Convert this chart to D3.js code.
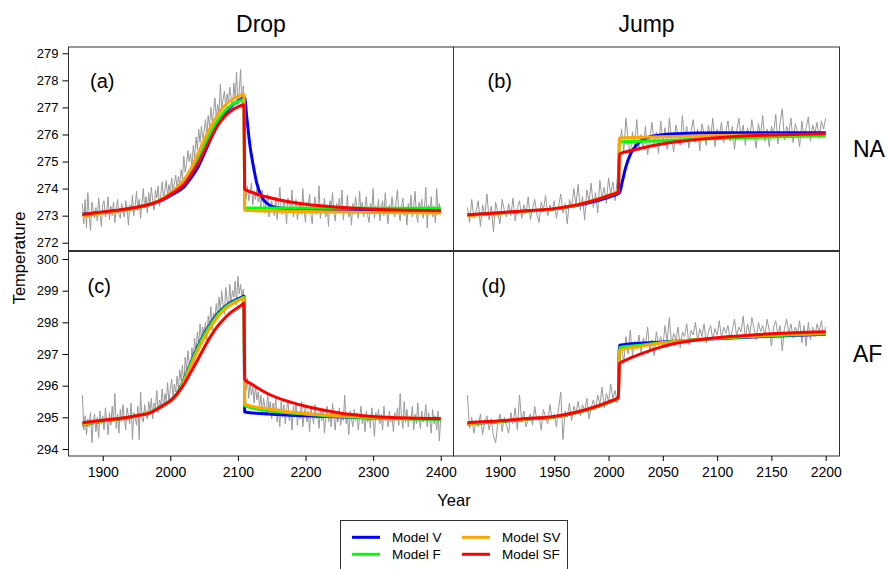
<!DOCTYPE html>
<html lang="en">
<head>
  <meta charset="UTF-8">
  <script type="text/javascript" src="https://cdn.jsdelivr.net/npm/d3@7/dist/d3.min.js"></script>
  <title>Drop / Jump</title>
  <style type="text/css">
    * { margin: 0; padding: 0; }
    html, body { background-color: #fff; }
    svg text { font-family: "Liberation Sans", Arial, Helvetica, sans-serif; fill: #000; }
  </style>
</head>
<body>
<div id="box"></div>
<script type="text/javascript">
  // --- data: observed series (every 2 years) ---
  var dropYears = d3.range(1870, 2401, 2)
  var jumpYears = d3.range(1870, 2201, 2)

  var naDropObs = [
    273.45, 272.7, 273.6, 272.55, 273.85, 273.0, 272.45, 273.5, 273.2, 272.9,
    273.3, 272.8, 273.65, 273.1, 272.6, 273.4, 273.55, 272.95, 273.2, 273.7,
    272.85, 273.35, 273.0, 273.5, 272.75, 273.25, 273.6, 273.05, 272.9, 273.45,
    273.2, 272.95, 273.55, 273.3, 272.65, 273.4, 273.15, 273.75, 273.0, 273.35,
    273.9, 273.2, 273.6, 272.9, 273.45, 274.0, 273.3, 273.7, 273.1, 273.85,
    273.4, 274.05, 273.55, 273.2, 273.95, 273.65, 274.1, 273.35, 273.8, 274.25,
    273.6, 273.95, 274.3, 273.7, 274.15, 273.85, 274.4, 273.9, 274.2, 274.5,
    274.0, 274.45, 274.2, 274.7, 274.35, 275.2, 274.6, 274.9, 275.4, 275.0,
    275.3, 274.8, 275.6, 275.1, 275.9, 275.45, 276.2, 275.7, 276.3, 275.85,
    276.1, 276.55, 275.95, 276.7, 276.3, 277.0, 276.5, 276.85, 277.35, 276.6,
    277.1, 276.75, 277.85, 276.9, 277.3, 277.6, 277.0, 277.5, 277.2, 277.75,
    277.35, 276.95, 277.9, 277.3, 278.3, 277.1, 277.6, 278.4, 276.95, 277.8,
    273.95, 273.6, 274.1, 273.55, 273.85, 274.2, 273.4, 273.9, 273.6, 274.0,
    273.5, 273.75, 273.3, 273.95, 273.45, 273.1, 273.6, 273.8, 272.95, 273.35,
    273.55, 273.2, 273.0, 273.7, 272.85, 273.4, 274.05, 273.25, 273.05, 273.6,
    273.3, 272.7, 273.65, 273.45, 273.1, 273.95, 272.95, 273.2, 273.6, 272.85,
    273.25, 273.5, 273.05, 274.0, 273.15, 272.75, 273.5, 273.35, 273.8, 273.0,
    272.7, 273.35, 273.7, 273.05, 273.2, 274.1, 272.9, 273.4, 273.15, 273.65,
    272.95, 273.4, 272.6, 273.55, 273.3, 273.85, 273.1, 272.8, 273.45, 273.2,
    273.65, 273.1, 273.95, 272.85, 273.35, 273.15, 273.75, 272.95, 273.3, 272.65,
    273.45, 273.05, 273.7, 273.25, 272.9, 273.9, 273.15, 273.5, 272.95, 273.35,
    273.7, 273.0, 272.75, 273.45, 273.2, 274.0, 272.9, 273.35, 273.1, 273.6,
    272.8, 273.3, 273.55, 273.0, 273.85, 273.15, 272.7, 273.4, 273.1, 273.7,
    273.2, 272.95, 273.55, 273.95, 273.1, 272.8, 273.35, 273.65, 273.0, 273.3,
    272.65, 273.45, 273.15, 273.75, 272.95, 273.35, 273.9, 273.05, 272.75, 273.5,
    273.2, 273.6, 272.9, 273.3, 274.05, 272.55, 273.4, 273.1, 273.7, 272.95,
    273.35, 272.75, 274.0, 273.15, 273.45, 273.1
  ]

  var naJumpObs = [
    273.3, 272.75, 273.6, 272.9, 273.15, 273.55, 272.6, 273.4, 273.0, 273.8,
    272.85, 273.35, 272.4, 273.5, 273.1, 272.7, 273.6, 273.2, 272.95, 273.45,
    273.0, 273.65, 272.8, 273.3, 273.55, 272.9, 273.4, 273.1, 273.7, 272.85,
    273.25, 273.6, 273.05, 272.75, 273.5, 273.2, 273.75, 273.0, 273.4, 273.15,
    273.55, 272.9, 273.35, 273.8, 273.1, 273.45, 272.7, 273.6, 273.3, 274.0,
    273.4, 274.15, 273.2, 273.7, 272.85, 273.95, 273.5, 274.2, 273.3, 273.85,
    273.1, 274.3, 273.65, 274.05, 273.45, 274.4, 273.8, 274.25, 273.55, 274.35,
    275.5, 276.2, 275.35, 276.6, 275.8, 275.2, 276.1, 275.6, 276.55, 275.4,
    276.0, 275.5, 276.3, 275.25, 275.85, 276.45, 275.65, 276.1, 275.3, 276.5,
    275.75, 276.25, 275.45, 276.6, 275.9, 275.35, 276.35, 276.0, 275.6, 276.7,
    275.8, 276.3, 275.5, 276.15, 276.55, 275.7, 276.2, 275.4, 276.4, 276.05,
    275.6, 276.35, 275.85, 276.6, 275.55, 276.2, 275.95, 276.45, 275.7, 276.1,
    276.5, 275.75, 276.3, 275.45, 276.15, 276.6, 275.9, 276.35, 275.6, 276.25,
    275.85, 276.55, 276.0, 275.5, 276.4, 275.95, 276.7, 275.75, 276.2, 275.55,
    276.3, 276.0, 276.75, 275.65, 276.45, 276.95, 275.8, 276.3, 276.05, 276.6,
    275.7, 276.4, 276.1, 275.55, 276.5, 275.9, 276.25, 276.65, 275.75, 276.35,
    276.05, 276.45, 275.85, 276.5, 276.2, 276.6
  ]

  var afDropObs = [
    295.7, 294.6, 295.05, 294.45, 294.95, 294.7, 295.15, 294.2, 294.85, 295.1,
    294.55, 295.0, 294.35, 295.2, 294.8, 295.05, 294.6, 295.3, 294.9, 294.45,
    295.15, 294.75, 295.35, 294.9, 295.75, 294.65, 295.1, 294.5, 295.25, 294.85,
    295.4, 294.95, 294.6, 295.3, 295.05, 294.8, 295.45, 294.3, 295.15, 295.0,
    294.75, 295.35, 294.3, 295.8, 295.0, 294.85, 295.4, 295.1, 294.95, 295.5,
    295.2, 295.6, 294.95, 295.45, 295.3, 295.85, 295.15, 295.55, 295.4, 295.9,
    295.3, 295.75, 295.5, 296.1, 295.45, 295.9, 296.2, 295.65, 296.05, 295.8,
    296.3, 295.9, 296.5, 296.15, 296.65, 296.0, 296.9, 296.45, 297.1, 296.7,
    296.55, 297.2, 296.8, 297.5, 297.0, 297.7, 297.3, 297.95, 297.45, 297.85,
    297.6, 298.0, 297.4, 298.2, 297.9, 298.5, 297.75, 298.3, 298.1, 298.6,
    298.2, 298.8, 298.35, 299.0, 298.55, 298.25, 299.1, 298.7, 298.45, 299.2,
    298.6, 299.0, 298.8, 299.3, 298.55, 299.45, 298.9, 299.2, 298.75, 299.05,
    296.3, 295.85, 296.25, 295.6, 296.1, 295.7, 295.95, 295.45, 296.0, 295.55,
    295.8, 295.35, 295.7, 295.15, 295.6, 295.3, 295.05, 295.75, 295.2, 295.5,
    294.95, 295.45, 295.1, 295.65, 294.85, 295.3, 294.7, 295.5, 295.0, 295.4,
    294.8, 295.25, 295.55, 294.9, 295.15, 294.6, 295.35, 295.05, 295.45, 294.75,
    295.2, 294.95, 295.5, 294.7, 295.1, 295.35, 294.85, 295.2, 294.55, 295.3,
    295.05, 294.8, 295.4, 294.95, 295.15, 294.65, 295.3, 294.9, 295.25, 294.5,
    295.0, 295.35, 294.85, 295.1, 294.7, 295.45, 294.95, 294.6, 295.2, 294.85,
    295.3, 294.75, 295.1, 294.9, 295.7, 294.8, 295.05, 294.45, 295.2, 294.95,
    294.7, 295.25, 294.9, 295.15, 294.6, 295.0, 295.35, 294.8, 295.1, 294.55,
    295.2, 294.85, 295.05, 294.65, 295.3, 294.9, 294.4, 295.15, 294.95, 295.25,
    294.8, 295.1, 294.6, 295.35, 294.9, 295.0, 294.7, 295.2, 294.85, 295.05,
    294.55, 295.15, 294.9, 295.3, 294.75, 295.75, 295.0, 294.65, 295.5, 294.85,
    295.25, 294.7, 295.05, 294.9, 295.35, 294.6, 295.1, 294.8, 295.45, 294.95,
    294.65, 295.2, 294.85, 295.0, 295.4, 294.7, 295.15, 294.9, 294.5, 295.25,
    294.8, 295.05, 294.6, 295.2, 294.25, 295.0
  ]

  var afJumpObs = [
    295.7, 294.65, 295.0, 294.5, 294.9, 294.7, 295.1, 294.45, 294.85, 295.05,
    294.6, 294.95, 294.4, 294.2, 294.8, 295.1, 294.55, 295.0, 294.75, 294.5,
    295.15, 294.8, 295.3, 294.6, 295.7, 294.85, 295.2, 294.7, 294.95, 295.1,
    294.75, 295.35, 294.9, 295.05, 294.6, 295.25, 295.0, 294.8, 295.4, 294.95,
    295.1, 294.7, 295.3, 295.8, 294.3, 295.2, 295.0, 295.45, 294.9, 295.35,
    295.15, 295.5, 295.05, 295.4, 295.2, 295.6, 294.95, 295.3, 295.55, 295.25,
    295.7, 295.4, 295.95, 295.3, 295.75, 295.5, 296.05, 295.6, 295.85, 295.45,
    296.85, 297.3, 296.7, 297.55, 297.0, 297.75, 296.95, 297.4, 297.15, 297.6,
    297.05, 297.5, 297.25, 297.85, 297.1, 297.45, 296.95, 297.7, 297.3, 297.55,
    297.2, 297.9, 297.4, 298.15, 297.3, 297.65, 297.45, 297.85, 297.2, 297.7,
    297.55, 297.95, 297.3, 297.75, 297.6, 298.0, 297.4, 297.8, 297.55, 297.95,
    297.35, 297.7, 297.9, 297.45, 297.8, 297.6, 298.05, 297.5, 297.85, 297.65,
    297.9, 297.45, 297.75, 298.1, 297.55, 297.85, 297.7, 298.2, 297.5, 297.95,
    297.6, 298.15, 297.8, 297.45, 298.0, 297.7, 297.9, 297.55, 298.1, 297.75,
    297.25, 297.85, 298.05, 297.6, 297.9, 297.1, 297.8, 298.1, 297.65, 297.95,
    297.5, 297.85, 297.65, 298.05, 297.35, 297.9, 297.25, 298.0, 297.45, 297.85,
    297.55, 297.95, 297.7, 298.05, 297.6, 297.85
  ]

  // --- data: fitted model curves, [year, temperature] ---
  var naDropV = [[1870,273.05],[1900,273.13],[1930,273.22],[1950,273.3],[1970,273.41],[1990,273.6],[2000,273.74],[2010,273.88],[2020,274.05],[2030,274.38],[2040,274.75],[2050,275.28],[2060,275.85],[2070,276.35],[2080,276.75],[2090,277.04],[2100,277.24],[2105,277.31],[2110,277.36],[2113,276.66],[2118,275.55],[2123,274.81],[2128,274.19],[2135,273.7],[2143,273.45],[2152,273.33],[2165,273.27],[2200,273.23],[2300,273.2],[2400,273.18]]
  var naDropF = [[1870,273.03],[1900,273.13],[1930,273.22],[1950,273.3],[1970,273.42],[1990,273.63],[2000,273.8],[2010,273.98],[2020,274.22],[2030,274.6],[2040,275.1],[2050,275.6],[2060,276.1],[2070,276.52],[2080,276.85],[2090,277.08],[2100,277.22],[2105,277.27],[2109,277.3],[2110,273.28],[2400,273.27]]
  var naDropSV = [[1870,272.98],[1900,273.1],[1930,273.2],[1950,273.29],[1970,273.42],[1990,273.66],[2000,273.84],[2010,274.05],[2020,274.32],[2030,274.72],[2040,275.25],[2050,275.8],[2060,276.3],[2070,276.73],[2080,277.05],[2090,277.27],[2100,277.41],[2105,277.46],[2109,277.49],[2110,273.2],[2150,273.17],[2200,273.15],[2300,273.12],[2400,273.1]]
  var naDropSF = [[1870,273.04],[1900,273.14],[1930,273.23],[1950,273.31],[1970,273.42],[1990,273.62],[2000,273.78],[2010,273.95],[2020,274.15],[2030,274.5],[2040,274.9],[2050,275.38],[2060,275.88],[2070,276.33],[2080,276.66],[2090,276.88],[2100,277.02],[2105,277.07],[2109,277.1],[2110,273.98],[2120,273.87],[2130,273.78],[2143,273.69],[2167,273.55],[2200,273.42],[2250,273.31],[2300,273.24],[2350,273.2],[2400,273.18]]

  var naJumpV = [[1870,273.02],[1900,273.1],[1925,273.17],[1950,273.25],[1970,273.37],[1990,273.56],[2000,273.68],[2010,273.84],[2013,274.32],[2016,274.81],[2020.5,275.3],[2027,275.67],[2034,275.86],[2047,275.98],[2062,276.03],[2100,276.06],[2200,276.06]]
  var naJumpF = [[1870,273.02],[1900,273.1],[1925,273.17],[1950,273.25],[1970,273.38],[1990,273.6],[2000,273.73],[2009,273.87],[2010,275.72],[2050,275.77],[2100,275.85],[2150,275.91],[2200,275.95]]
  var naJumpSV = [[1870,273.0],[1900,273.09],[1925,273.17],[1950,273.26],[1970,273.4],[1990,273.62],[2000,273.76],[2009,273.9],[2010,275.87],[2100,275.96],[2200,276.0]]
  var naJumpSF = [[1870,273.03],[1900,273.11],[1925,273.18],[1950,273.26],[1970,273.39],[1990,273.6],[2000,273.74],[2009,273.88],[2010,275.28],[2020,275.4],[2032,275.51],[2045,275.62],[2062,275.73],[2080,275.81],[2094,275.86],[2120,275.93],[2150,275.98],[2200,276.03]]

  var afDropV = [[1870,294.76],[1900,294.88],[1930,294.97],[1950,295.05],[1970,295.16],[1990,295.4],[2000,295.53],[2010,295.75],[2020,296.18],[2030,296.7],[2040,297.2],[2050,297.63],[2060,297.98],[2070,298.27],[2080,298.48],[2090,298.63],[2100,298.74],[2105,298.79],[2109,298.82],[2110,295.17],[2150,295.1],[2200,295.05],[2300,294.98],[2400,294.95]]
  var afDropF = [[1870,294.76],[1900,294.88],[1930,294.97],[1950,295.05],[1970,295.16],[1990,295.39],[2000,295.52],[2010,295.74],[2020,296.16],[2030,296.67],[2040,297.16],[2050,297.59],[2060,297.94],[2070,298.23],[2080,298.45],[2090,298.6],[2100,298.71],[2105,298.76],[2109,298.79],[2110,295.36],[2150,295.2],[2200,295.1],[2250,295.03],[2300,294.98],[2400,294.94]]
  var afDropSV = [[1870,294.78],[1900,294.89],[1930,294.98],[1950,295.05],[1970,295.16],[1990,295.38],[2000,295.51],[2010,295.72],[2020,296.12],[2030,296.6],[2040,297.08],[2050,297.5],[2060,297.87],[2070,298.17],[2080,298.4],[2090,298.56],[2100,298.68],[2105,298.73],[2109,298.77],[2110,295.42],[2150,295.25],[2200,295.12],[2250,295.05],[2300,295.0],[2400,294.96]]
  var afDropSF = [[1870,294.83],[1900,294.91],[1930,294.98],[1950,295.05],[1970,295.14],[1990,295.38],[2000,295.52],[2010,295.74],[2020,296.04],[2030,296.42],[2040,296.8],[2050,297.2],[2060,297.57],[2070,297.88],[2080,298.12],[2090,298.32],[2100,298.47],[2105,298.54],[2109,298.6],[2110,296.2],[2120,296.05],[2130,295.92],[2143,295.76],[2167,295.55],[2200,295.35],[2250,295.14],[2300,295.03],[2350,294.98],[2400,294.96]]

  var afJumpV = [[1870,294.79],[1900,294.87],[1925,294.94],[1950,295.01],[1970,295.14],[1990,295.34],[2000,295.47],[2009,295.61],[2010,297.28],[2050,297.38],[2093,297.47],[2150,297.56],[2200,297.62]]
  var afJumpF = [[1870,294.79],[1900,294.87],[1925,294.94],[1950,295.01],[1970,295.14],[1990,295.34],[2000,295.47],[2009,295.61],[2010,297.2],[2030,297.28],[2050,297.36],[2093,297.48],[2150,297.58],[2200,297.64]]
  var afJumpSV = [[1870,294.8],[1900,294.88],[1925,294.95],[1950,295.02],[1970,295.15],[1990,295.35],[2000,295.48],[2009,295.62],[2010,297.12],[2030,297.24],[2047,297.34],[2093,297.48],[2150,297.6],[2200,297.66]]
  var afJumpSF = [[1870,294.83],[1900,294.89],[1925,294.96],[1950,295.03],[1970,295.16],[1990,295.36],[2000,295.49],[2009,295.63],[2010,296.7],[2016,296.81],[2031,297.02],[2047,297.21],[2062,297.34],[2093,297.49],[2120,297.57],[2150,297.64],[2200,297.7]]

  // --- labels / ticks ---
  var colTitles = ['Drop', 'Jump']
  var rowTitles = ['NA', 'AF']
  var panelLabels = ['(a)', '(b)', '(c)', '(d)']
  var modelNames = ['Model V', 'Model F', 'Model SV', 'Model SF']
  var modelColors = ['#0000ff', '#00ff00', '#ffa500', '#ff0000']
  var dropTicks = [1900, 2000, 2100, 2200, 2300, 2400]
  var jumpTicks = [1900, 1950, 2000, 2050, 2100, 2150, 2200]
  var naTicks = [272, 273, 274, 275, 276, 277, 278, 279]
  var afTicks = [294, 295, 296, 297, 298, 299, 300]

  // --- canvas ---
  var width = 887
  var height = 569
  var svg = d3.select('#box').append('svg')
    .attr('width', width)
    .attr('height', height)

  // scales, one per column / row
  var xScales = [
    d3.scaleLinear().domain([1849.4, 2418.9]).range([68.5, 453.5]),
    d3.scaleLinear().domain([1857.2, 2212.7]).range([453.5, 839.5])
  ]
  var yScales = [
    d3.scaleLinear().domain([271.712, 279.233]).range([250.5, 47]),
    d3.scaleLinear().domain([293.779, 300.237]).range([456, 251.5])
  ]

  var panels = [
    { col: 0, row: 0, years: dropYears, obs: naDropObs, fits: [naDropV, naDropF, naDropSV, naDropSF], lx: 21.5, ly: 41 },
    { col: 1, row: 0, years: jumpYears, obs: naJumpObs, fits: [naJumpV, naJumpF, naJumpSV, naJumpSF], lx: 34, ly: 41 },
    { col: 0, row: 1, years: dropYears, obs: afDropObs, fits: [afDropV, afDropF, afDropSV, afDropSF], lx: 19, ly: 41 },
    { col: 1, row: 1, years: jumpYears, obs: afJumpObs, fits: [afJumpV, afJumpF, afJumpSV, afJumpSF], lx: 28, ly: 41 }
  ]

  panels.forEach(function (p, i) {
    var x = xScales[p.col]
    var y = yScales[p.row]
    var x0 = x.range()[0], x1 = x.range()[1]
    var y0 = y.range()[1], y1 = y.range()[0]

    var clipId = 'clip' + i
    svg.append('clipPath').attr('id', clipId)
      .append('rect')
      .attr('x', x0).attr('y', y0)
      .attr('width', x1 - x0).attr('height', y1 - y0)

    var g = svg.append('g').attr('clip-path', 'url(#' + clipId + ')')

    // observed series
    var obsLine = d3.line()
      .x(function (d, j) { return x(p.years[j]) })
      .y(function (d) { return y(d) })
    g.append('path')
      .datum(p.obs)
      .attr('d', obsLine)
      .attr('fill', 'none')
      .attr('stroke', '#999')
      .attr('stroke-width', 1)

    // model fits
    var fitLine = d3.line()
      .x(function (d) { return x(d[0]) })
      .y(function (d) { return y(d[1]) })
      .curve(d3.curveMonotoneX)
    g.selectAll('path.fit')
      .data(p.fits)
      .enter()
      .append('path')
      .attr('class', 'fit')
      .attr('d', fitLine)
      .attr('fill', 'none')
      .attr('stroke', function (d, k) { return modelColors[k] })
      .attr('stroke-width', 3)
      .attr('stroke-linejoin', 'round')

    // panel frame
    svg.append('rect')
      .attr('x', x0).attr('y', y0)
      .attr('width', x1 - x0).attr('height', y1 - y0)
      .attr('fill', 'none')
      .attr('stroke', '#333')
      .attr('stroke-width', 1)

    svg.append('text')
      .attr('x', x0 + p.lx)
      .attr('y', y0 + p.ly)
      .style('font-size', '20px')
      .text(panelLabels[i])
  })

  // y axes (left column only)
  var yTicks = [naTicks, afTicks]
  yScales.forEach(function (y, r) {
    var axis = d3.axisLeft(y).tickValues(yTicks[r]).tickFormat(d3.format('d')).tickSize(6).tickPadding(4)
    var ga = svg.append('g').attr('transform', 'translate(68.5,0)').call(axis)
    ga.select('.domain').remove()
    ga.selectAll('line').attr('stroke', '#000')
    ga.selectAll('text').style('font-size', '13px').attr('fill', '#000')
  })

  // x axes (bottom row only)
  var xTicks = [dropTicks, jumpTicks]
  xScales.forEach(function (x, c) {
    var axis = d3.axisBottom(x).tickValues(xTicks[c]).tickFormat(d3.format('d')).tickSize(5).tickPadding(6)
    var ga = svg.append('g').attr('transform', 'translate(0,456)').call(axis)
    ga.select('.domain').remove()
    ga.selectAll('line').attr('stroke', '#000')
    ga.selectAll('text').style('font-size', '14px').attr('fill', '#000')
  })

  // strip titles
  svg.selectAll('text.col')
    .data(colTitles)
    .enter()
    .append('text')
    .attr('class', 'col')
    .attr('x', function (d, c) { return d3.mean(xScales[c].range()) })
    .attr('y', 31.5)
    .attr('text-anchor', 'middle')
    .style('font-size', '23px')
    .text(function (d) { return d })

  svg.selectAll('text.row')
    .data(rowTitles)
    .enter()
    .append('text')
    .attr('class', 'row')
    .attr('x', 853)
    .attr('y', function (d, r) { return d3.mean(yScales[r].range()) + 8 })
    .style('font-size', '23px')
    .text(function (d) { return d })

  // axis titles
  svg.append('text')
    .attr('transform', 'translate(25,258) rotate(-90)')
    .attr('text-anchor', 'middle')
    .style('font-size', '16.5px')
    .text('Temperature')

  svg.append('text')
    .attr('x', 454)
    .attr('y', 505.5)
    .attr('text-anchor', 'middle')
    .style('font-size', '16.5px')
    .text('Year')

  // legend
  var legend = svg.append('g').attr('transform', 'translate(340,520)')
  legend.append('rect')
    .attr('x', 0.5).attr('y', 0.5)
    .attr('width', 227).attr('height', 70)
    .attr('fill', '#fff')
    .attr('stroke', '#333')

  var item = legend.selectAll('g.item')
    .data(modelNames)
    .enter()
    .append('g')
    .attr('class', 'item')
    .attr('transform', function (d, k) {
      return 'translate(' + (k < 2 ? 12 : 122) + ',' + (k % 2 === 0 ? 17.3 : 34.3) + ')'
    })
  item.append('line')
    .attr('x1', 0).attr('x2', 28)
    .attr('stroke', function (d, k) { return modelColors[k] })
    .attr('stroke-width', 3)
  item.append('text')
    .attr('x', 40)
    .attr('dy', '0.33em')
    .style('font-size', '13.5px')
    .text(function (d) { return d })
</script>
</body>
</html>
